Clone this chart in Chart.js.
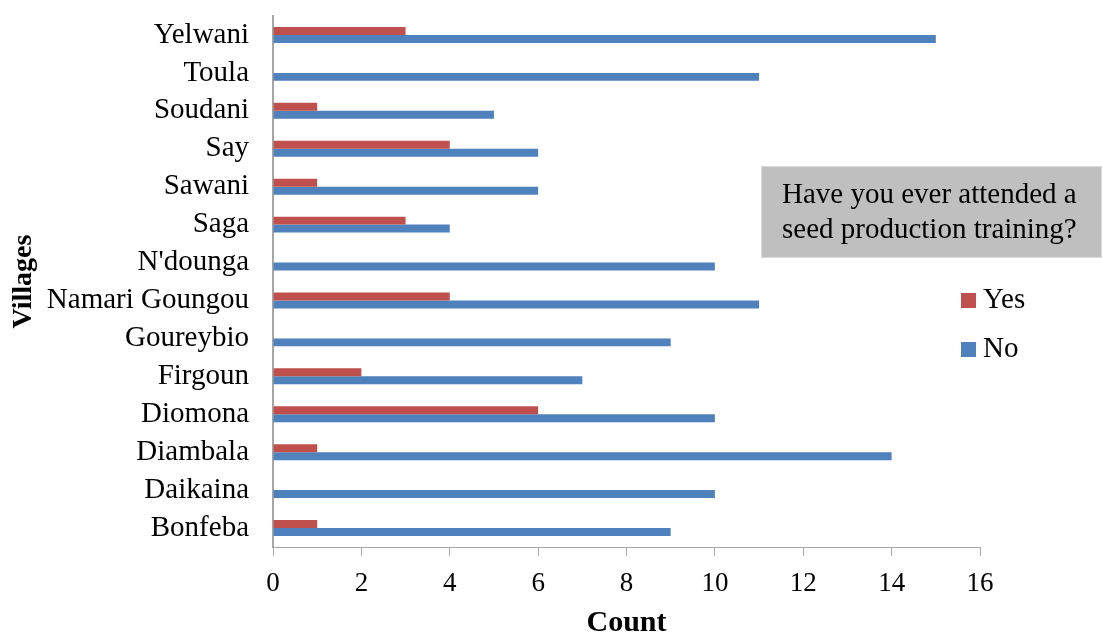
<!DOCTYPE html>
<html>
<head>
<meta charset="utf-8">
<script src="https://cdn.jsdelivr.net/npm/chart.js@4/dist/chart.umd.min.js"></script>
<style>
  html, body { margin: 0; padding: 0; background: #fff; }
  #wrap { width: 1102px; height: 635px; }
</style>
</head>
<body>
<div id="wrap"><canvas id="c" width="1102" height="635"></canvas></div>
<script>
// Villages, listed top to bottom
const villages = ['Yelwani', 'Toula', 'Soudani', 'Say', 'Sawani', 'Saga', "N'dounga",
  'Namari Goungou', 'Goureybio', 'Firgoun', 'Diomona', 'Diambala', 'Daikaina', 'Bonfeba'];
// Respondents who attended a seed production training
const yesCounts = [3, 0, 1, 4, 1, 3, 0, 4, 0, 2, 6, 1, 0, 1];
// Respondents who never attended one
const noCounts = [15, 11, 5, 6, 6, 4, 10, 11, 9, 7, 10, 14, 10, 9];
const seriesNames = ['Yes', 'No'];
const questionLines = ['Have you ever attended a', 'seed production training?'];

const SERIF = "'Liberation Serif', 'Times New Roman', serif";
const AXIS_GREY = '#a6a6a6';

// Question box and legend drawn on the canvas next to the plot
const sidePanel = {
  id: 'sidePanel',
  afterDraw(chart) {
    const ctx = chart.ctx;
    ctx.save();
    // question box
    ctx.fillStyle = '#bfbfbf';
    ctx.fillRect(761, 166, 340, 91);
    ctx.strokeStyle = '#d9d9d9';
    ctx.lineWidth = 1;
    ctx.strokeRect(761.5, 166.5, 340, 91);
    ctx.fillStyle = '#000';
    ctx.font = '29px ' + SERIF;
    ctx.textAlign = 'left';
    ctx.textBaseline = 'alphabetic';
    questionLines.forEach((line, i) => ctx.fillText(line, 782, 203 + i * 35));
    // legend
    chart.data.datasets.forEach((ds, i) => {
      const y = 293 + i * 49;
      ctx.fillStyle = ds.backgroundColor;
      ctx.fillRect(961, y, 15, 15);
      ctx.fillStyle = '#000';
      ctx.font = '29px ' + SERIF;
      ctx.fillText(ds.label, 983, y + 15);
    });
    ctx.restore();
  }
};

new Chart(document.getElementById('c'), {
  type: 'bar',
  data: {
    labels: villages,
    datasets: [
      { label: seriesNames[0], data: yesCounts, backgroundColor: '#C0504D' },
      { label: seriesNames[1], data: noCounts, backgroundColor: '#4F81BD' }
    ]
  },
  options: {
    indexAxis: 'y',
    responsive: false,
    animation: false,
    categoryPercentage: 0.42,
    barPercentage: 1.0,
    layout: { padding: { top: 16, right: 122, bottom: 0, left: 0 } },
    plugins: { legend: { display: false }, tooltip: { enabled: false } },
    scales: {
      x: {
        min: 0, max: 16,
        ticks: { stepSize: 2, color: '#000', font: { family: SERIF, size: 27 }, padding: 12 },
        grid: { display: true, drawOnChartArea: false, tickLength: 9, color: AXIS_GREY },
        border: { color: AXIS_GREY, width: 1 },
        title: { display: true, text: 'Count', color: '#000',
          font: { family: SERIF, size: 30, weight: 'bold', lineHeight: 0.8 }, padding: 0 },
        afterFit(scale) { scale.height = 88; }
      },
      y: {
        ticks: { color: '#000', font: { family: SERIF, size: 29 }, padding: 24, autoSkip: false },
        grid: { display: false, drawTicks: false },
        border: { color: AXIS_GREY, width: 2 },
        title: { display: true, text: 'Villages', color: '#000',
          font: { family: SERIF, size: 28, weight: 'bold', lineHeight: 1 }, padding: { top: 10, bottom: 0 } },
        afterFit(scale) {
          scale.width = 273;
          scale.paddingTop = 0;
          scale.paddingBottom = 0;
        }
      }
    }
  },
  plugins: [sidePanel]
});
</script>
</body>
</html>
